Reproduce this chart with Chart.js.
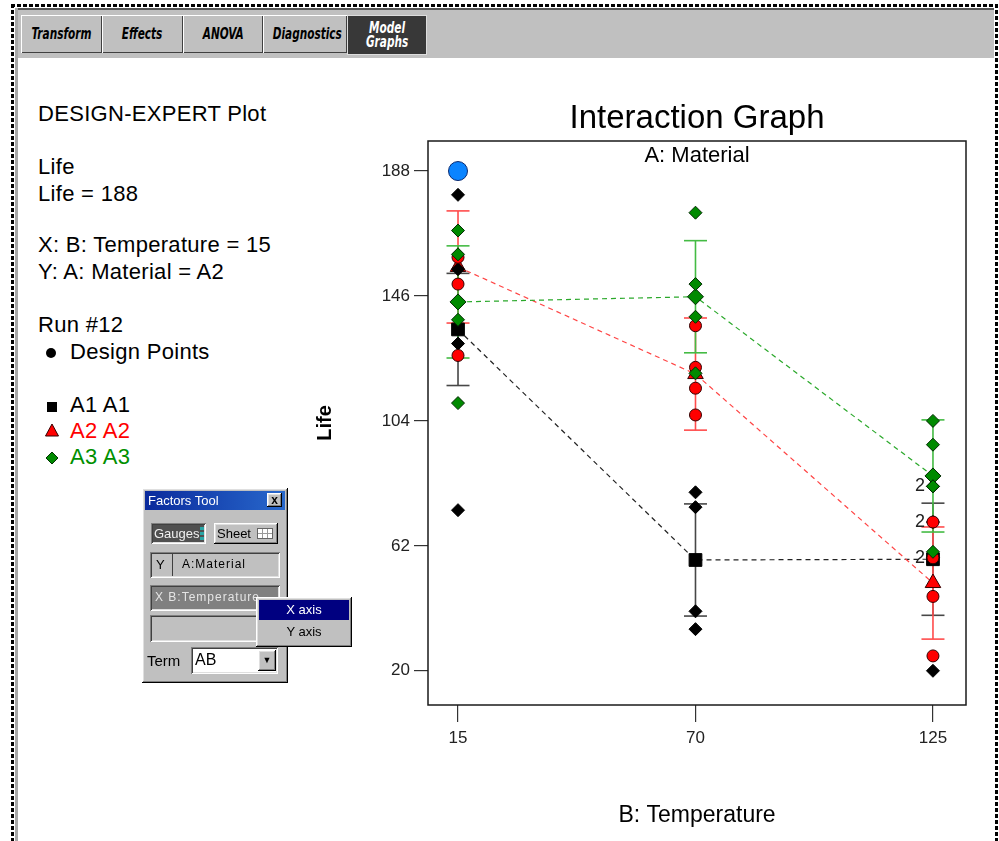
<!DOCTYPE html>
<html>
<head>
<meta charset="utf-8">
<title>Interaction Graph</title>
<script src="https://cdn.jsdelivr.net/npm/chart.js@4.4.0/dist/chart.umd.min.js"></script>
<style>
  html, body { margin: 0; padding: 0; background: #fff; }
  body { width: 999px; height: 841px; position: relative; overflow: hidden;
         font-family: "Liberation Sans", Arial, sans-serif; color: #000; }
  .abs { position: absolute; }
  .dashH { height: 3px; background: repeating-linear-gradient(90deg, #000 0 4px, #fff 4px 6px); }
  .dashV { width: 3px; background: repeating-linear-gradient(180deg, #000 0 4px, #fff 4px 6px); }
  .tab { top: 15px; height: 38px; background: #c0c0c0;
         box-shadow: inset 1px 1px #fff, inset -1px -1px #404040;
         font-family: "DejaVu Sans Condensed", "Liberation Sans", sans-serif;
         font-weight: bold; font-style: italic; font-size: 15px; line-height: 38px; text-align: center; }
  .tab span { display: inline-block; transform: scaleX(0.78); }
  .info { left: 38px; font-size: 22px; line-height: 22px; letter-spacing: 0.3px; white-space: nowrap; }
  .raised { background: #c0c0c0; box-shadow: inset -1px -1px #000, inset 1px 1px #fff, inset -2px -2px #808080, inset 2px 2px #dfdfdf; }
  .sunken { box-shadow: inset 1px 1px #808080, inset -1px -1px #fff, inset 2px 2px #404040, inset -2px -2px #dfdfdf; }
  .ft { font-size: 13px; white-space: nowrap; }
</style>
</head>
<body>

<!-- window frame -->
<div class="abs dashH" style="left:11px;top:4px;width:987px;"></div>
<div class="abs dashV" style="left:11px;top:4px;height:840px;"></div>
<div class="abs dashV" style="left:995px;top:4px;height:840px;"></div>
<div class="abs" style="left:15px;top:8px;width:3px;height:836px;background:#a8a8a8;"></div>

<!-- toolbar -->
<div class="abs" style="left:18px;top:8px;width:976px;height:50px;background:#c0c0c0;border-top:2px solid #555;box-sizing:border-box;"></div>
<div class="abs tab" style="left:21px;width:81px;"><span>Transform</span></div>
<div class="abs tab" style="left:102px;width:81px;"><span>Effects</span></div>
<div class="abs tab" style="left:183px;width:80px;"><span>ANOVA</span></div>
<div class="abs tab" style="left:263px;width:84px;"><span>Diagnostics</span></div>
<div class="abs tab" style="left:347px;width:80px;height:40px;background:#383838;color:#fff;line-height:14px;padding-top:6px;box-sizing:border-box;box-shadow:inset 1px 1px #ddd, inset -1px -1px #ddd;"><span>Model<br>Graphs</span></div>

<!-- chart -->
<canvas id="interactionChart" width="690" height="750" style="position:absolute;left:300px;top:90px;"></canvas>

<!-- left info panel -->
<div class="abs info" style="top:103px;">DESIGN-EXPERT Plot</div>
<div class="abs info" style="top:156px;">Life</div>
<div class="abs info" style="top:183px;">Life = 188</div>
<div class="abs info" style="top:234px;">X: B: Temperature = 15</div>
<div class="abs info" style="top:261px;">Y: A: Material = A2</div>
<div class="abs info" style="top:314px;">Run #12</div>
<div class="abs info" style="top:341px;left:70px;">Design Points</div>
<div class="abs info" style="top:394px;left:70px;">A1 A1</div>
<div class="abs info" style="top:420px;left:70px;color:#ff0000;">A2 A2</div>
<div class="abs info" style="top:446px;left:70px;color:#009000;">A3 A3</div>
<svg class="abs" style="left:40px;top:340px;" width="30" height="130">
  <circle cx="11" cy="13" r="5" fill="#000"/>
  <rect x="7" y="62" width="10" height="10" fill="#000"/>
  <polygon points="12,84 18.5,96 5.5,96" fill="#ff0000" stroke="#300" stroke-width="1"/>
  <polygon points="12,112 18,118 12,124 6,118" fill="#008a00" stroke="#030" stroke-width="1"/>
</svg>

<!-- factors tool -->
<div class="abs raised" style="left:142px;top:488px;width:146px;height:195px;"></div>
<div class="abs ft" style="left:145px;top:491px;width:140px;height:19px;background:linear-gradient(90deg,#0a2a9c,#2868cc);color:#fff;line-height:19px;padding-left:3px;box-sizing:border-box;">Factors Tool</div>
<div class="abs raised" style="left:267px;top:493px;width:15px;height:14px;font:bold 12px/14px 'Liberation Sans',Arial;text-align:center;">x</div>
<div class="abs ft sunken" style="left:151px;top:523px;width:55px;height:21px;background:#505050;color:#f0f0f0;line-height:21px;padding-left:3px;box-sizing:border-box;">Gauges</div>
<div class="abs" style="left:200px;top:527px;width:4px;height:13px;background:repeating-linear-gradient(180deg,#2aa6a6 0 3px,#505050 3px 5px);"></div>
<div class="abs ft raised" style="left:214px;top:523px;width:64px;height:21px;line-height:21px;padding-left:3px;box-sizing:border-box;">Sheet</div>
<div class="abs" style="left:257px;top:528px;width:16px;height:11px;background:#fff;border:1px solid #666;box-sizing:border-box;background-image:linear-gradient(90deg,transparent 4px,#999 4px 5px,transparent 5px 9px,#999 9px 10px,transparent 10px),linear-gradient(180deg,transparent 4px,#999 4px 5px,transparent 5px);"></div>
<div class="abs sunken" style="left:150px;top:552px;width:130px;height:26px;"></div>
<div class="abs ft" style="left:156px;top:557px;">Y</div>
<div class="abs" style="left:172px;top:554px;width:1px;height:22px;background:#404040;"></div>
<div class="abs ft" style="left:182px;top:557px;font-size:12px;letter-spacing:1px;">A:Material</div>
<div class="abs sunken" style="left:150px;top:585px;width:130px;height:26px;background:#808080;"></div>
<div class="abs ft" style="left:155px;top:590px;color:#e4e4e4;font-size:12px;letter-spacing:1px;">X B:Temperature</div>
<div class="abs sunken" style="left:150px;top:615px;width:130px;height:27px;"></div>
<div class="abs" style="left:147px;top:652px;font-size:15px;">Term</div>
<div class="abs sunken" style="left:191px;top:647px;width:87px;height:27px;background:#fff;"></div>
<div class="abs" style="left:195px;top:651px;font-size:16px;">AB</div>
<div class="abs raised" style="left:258px;top:650px;width:18px;height:21px;font-size:9px;line-height:21px;text-align:center;">&#9660;</div>

<!-- popup menu -->
<div class="abs raised" style="left:256px;top:597px;width:96px;height:50px;"></div>
<div class="abs ft" style="left:259px;top:600px;width:90px;height:20px;background:#000080;color:#fff;line-height:20px;text-align:center;">X axis</div>
<div class="abs ft" style="left:259px;top:622px;width:90px;height:20px;line-height:20px;text-align:center;">Y axis</div>

<script>
(function() {
    'use strict';

    const temperatures = [15, 70, 125];
    const yTickValues = [20, 62, 104, 146, 188];

    // Life of design points, one list per temperature (15, 70, 125)
    const lifeA1 = [[130, 155, 74, 180], [34, 40, 80, 75], [20, 70, 82, 58]];
    const lifeA2 = [[150, 188, 159, 126], [136, 122, 106, 115], [25, 70, 58, 45]];
    const lifeA3 = [[138, 110, 168, 160], [174, 120, 150, 139], [96, 104, 82, 60]];

    // predicted means
    const meanA1 = [134.75, 57.25, 57.5];
    const meanA2 = [155.75, 119.75, 49.5];
    const meanA3 = [144, 145.75, 85.5];

    // LSD bars
    const lowA1 = [115.9, 38.4, 38.65];
    const highA1 = [153.6, 76.1, 76.35];
    const lowA2 = [136.9, 100.9, 30.65];
    const highA2 = [174.6, 138.6, 68.35];
    const lowA3 = [125.15, 126.9, 66.65];
    const highA3 = [162.85, 164.6, 104.35];

    // highlighted run #12
    const selectedRun = { x: 15, y: 188 };

    const FONT = '"Liberation Sans", Arial, sans-serif';

    function meanPoints(means) {
        return temperatures.map((t, i) => ({ x: t, y: means[i] }));
    }

    function designPoints(life) {
        const pts = [];
        temperatures.forEach((t, i) => {
            life[i].forEach(v => pts.push({ x: t, y: v }));
        });
        return pts;
    }

    function barPoints(lo, hi) {
        const pts = [];
        temperatures.forEach((t, i) => {
            pts.push({ x: t, y: lo[i] }, { x: t, y: hi[i] }, { x: t, y: null });
        });
        return pts;
    }

    function barSet(lo, hi, color) {
        return {
            data: barPoints(lo, hi), showLine: true, spanGaps: false,
            borderColor: color, borderWidth: 1.6,
            pointStyle: 'line', pointRadius: 11.5,
            pointBorderColor: color, pointBorderWidth: 1.6
        };
    }

    function dashSet(means, color) {
        return {
            data: meanPoints(means), showLine: true,
            borderColor: color, borderWidth: 1.2, borderDash: [5, 4],
            pointRadius: 0
        };
    }

    function markerSet(data, style, radius, fill, edge) {
        return {
            data: data, showLine: false,
            pointStyle: style, pointRadius: radius,
            pointBackgroundColor: fill, pointBorderColor: edge, pointBorderWidth: 1
        };
    }

    // listed in drawing order (first = bottom)
    const datasets = [
        barSet(lowA1, highA1, '#474747'),
        barSet(lowA2, highA2, '#ff4c4c'),
        barSet(lowA3, highA3, '#44bb44'),
        dashSet(meanA1, '#222222'),
        dashSet(meanA2, '#ff4444'),
        dashSet(meanA3, '#2aa82a'),
        markerSet(meanPoints(meanA1), 'rect', 9, '#000000', '#000000'),
        markerSet(meanPoints(meanA2), 'triangle', 9, '#ff0000', '#330000'),
        markerSet(meanPoints(meanA3), 'rectRot', 8, '#008a00', '#002a00'),
        markerSet(designPoints(lifeA1), 'rectRot', 6.5, '#000000', '#000000'),
        markerSet(designPoints(lifeA2), 'circle', 6, '#ff0000', '#330000'),
        markerSet(designPoints(lifeA3), 'rectRot', 6.5, '#008a00', '#002a00'),
        markerSet([selectedRun], 'circle', 9.5, '#0a84ff', '#0a2a70')
    ];
    datasets.forEach((ds, i) => { ds.order = datasets.length - i; });

    // count coincident design points
    function duplicateCounts() {
        const counts = {};
        [lifeA1, lifeA2, lifeA3].forEach(life => {
            temperatures.forEach((t, i) => {
                life[i].forEach(v => {
                    const key = t + '|' + v;
                    counts[key] = (counts[key] || 0) + 1;
                });
            });
        });
        return Object.keys(counts)
            .filter(k => counts[k] > 1)
            .map(k => {
                const parts = k.split('|');
                return { x: +parts[0], y: +parts[1], n: counts[k] };
            });
    }

    const plotDecor = {
        id: 'plotDecor',
        afterDraw(chart) {
            const { ctx, chartArea, scales } = chart;
            ctx.save();
            ctx.strokeStyle = '#1a1a1a';
            ctx.lineWidth = 1.5;
            ctx.strokeRect(chartArea.left, chartArea.top, chartArea.right - chartArea.left, chartArea.bottom - chartArea.top);

            ctx.fillStyle = '#000';
            ctx.font = '22px ' + FONT;
            ctx.textAlign = 'center';
            ctx.textBaseline = 'middle';
            ctx.fillText('A: Material', (chartArea.left + chartArea.right) / 2, chartArea.top + 15);

            ctx.font = '18px ' + FONT;
            ctx.fillStyle = '#222';
            ctx.textAlign = 'right';
            duplicateCounts().forEach(d => {
                ctx.fillText(String(d.n), scales.x.getPixelForValue(d.x) - 8, scales.y.getPixelForValue(d.y));
            });
            ctx.restore();
        }
    };

    document.addEventListener('DOMContentLoaded', function() {
        const canvas = document.getElementById('interactionChart');
        Chart.defaults.font.family = FONT;

        new Chart(canvas.getContext('2d'), {
            type: 'line',
            data: { datasets: datasets },
            plugins: [plotDecor],
            options: {
                responsive: false,
                animation: false,
                devicePixelRatio: 1,
                events: [],
                layout: { padding: { left: 0, right: 24, top: 0, bottom: 0 } },
                plugins: {
                    legend: { display: false },
                    tooltip: { enabled: false },
                    title: {
                        display: true,
                        text: 'Interaction Graph',
                        fullSize: false,
                        color: '#000',
                        font: { size: 33, weight: 'normal' },
                        padding: { top: 9.5, bottom: 1.9 }
                    }
                },
                scales: {
                    x: {
                        type: 'linear',
                        min: 8.05,
                        max: 132.65,
                        afterBuildTicks: function(axis) {
                            axis.ticks = temperatures.map(v => ({ value: v }));
                        },
                        afterFit: function(axis) { axis.height = 135; },
                        border: { display: false },
                        grid: { drawOnChartArea: false, drawTicks: true, tickLength: 17, color: '#333', lineWidth: 1.2 },
                        ticks: { color: '#222', font: { size: 17 }, padding: 6, maxRotation: 0 },
                        title: {
                            display: true, text: 'B: Temperature', color: '#000',
                            font: { size: 23 }, padding: { top: 0, bottom: 11 }
                        }
                    },
                    y: {
                        type: 'linear',
                        min: 8.5,
                        max: 198.1,
                        afterBuildTicks: function(axis) {
                            axis.ticks = yTickValues.map(v => ({ value: v }));
                        },
                        afterFit: function(axis) { axis.width = 128; },
                        border: { display: false },
                        grid: { drawOnChartArea: false, drawTicks: true, tickLength: 14, color: '#333', lineWidth: 1.2 },
                        ticks: { color: '#222', font: { size: 17 }, padding: 4 },
                        title: {
                            display: true, text: 'Life', color: '#000',
                            font: { size: 20, weight: 'bold' }, padding: { top: 13, bottom: 0 }
                        }
                    }
                }
            }
        });
    });
})();
</script>
</body>
</html>
